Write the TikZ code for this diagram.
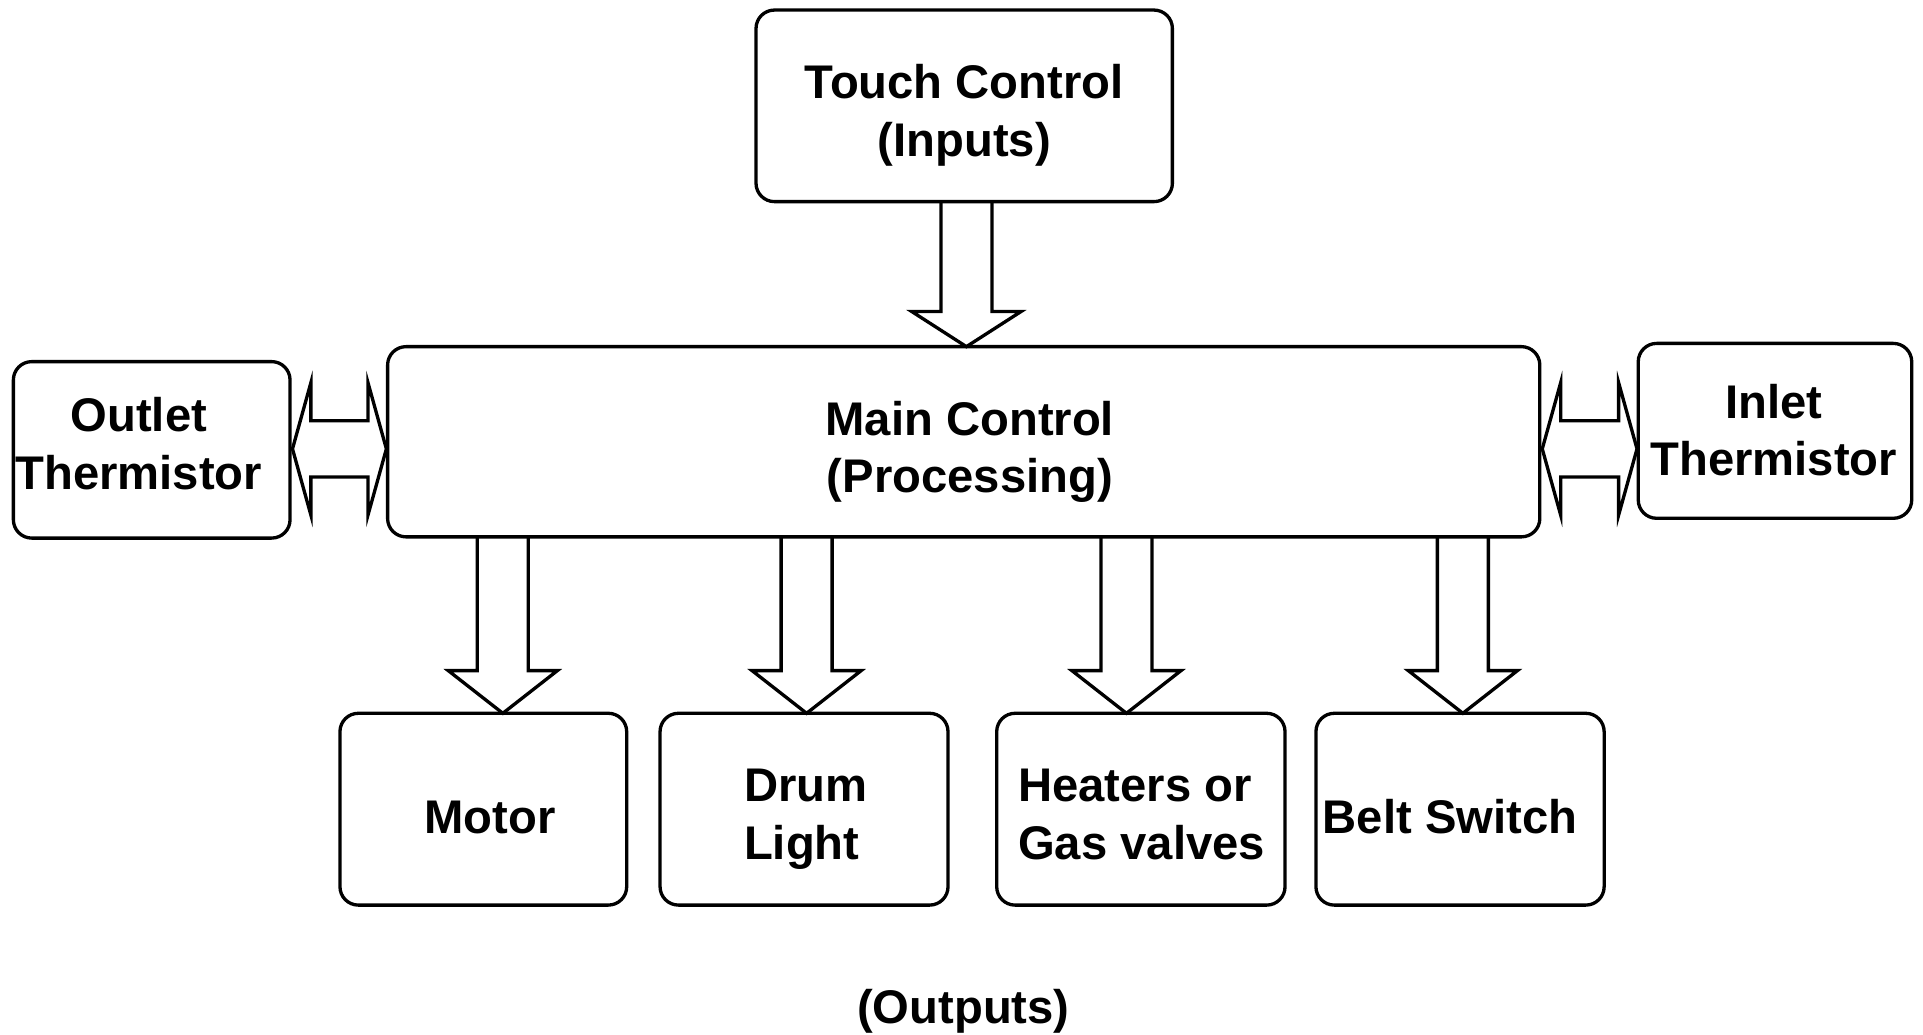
\documentclass[tikz,border=0pt]{standalone}
\usepackage{fontspec}
\setmainfont{Liberation Sans}
\usetikzlibrary{calc}
\tikzset{
  box/.style={draw, line width=2.7pt, rounded corners=15pt, inner sep=0pt, outer sep=0pt},
  lbl/.style={font=\fontsize{38.5}{47}\selectfont\bfseries, inner sep=0pt},
  fat/.style={draw, line width=2.7pt, line join=miter}
}
% text placed inside a box: #1 = twice the horizontal shift, #2 = raise of first baseline, #3 = column alignment
\newcommand\tb[4]{\raisebox{#2}[0pt][0pt]{\makebox[0pt]{\hspace*{#1}\begin{tabular}[t]{@{}#3@{}}#4\end{tabular}}}}
% broad downward arrow from node #2 to node #3 at x = #1, head length #4
\newcommand\fatdown[4]{%
  \path[fat] let \p1=(#2.south), \p2=(#3.north) in
    (#1pt-20.8pt,\y1) -- (#1pt-20.8pt,\y2+#4pt) -- (#1pt-44.5pt,\y2+#4pt) -- (#1pt,\y2)
    -- (#1pt+44.5pt,\y2+#4pt) -- (#1pt+20.8pt,\y2+#4pt) -- (#1pt+20.8pt,\y1);}
% broad double arrow between node #1 (left) and node #2 (right) at height #3
\newcommand\fatboth[3]{%
  \path[fat] let \p1=(#1.east), \p2=(#2.west) in
    (\x1+2pt,#3pt) -- (\x1+17pt,#3pt+54pt) -- (\x1+17pt,#3pt+23pt) -- (\x2-16pt,#3pt+23pt)
    -- (\x2-16pt,#3pt+54pt) -- (\x2-1pt,#3pt) -- (\x2-16pt,#3pt-54pt) -- (\x2-16pt,#3pt-23pt)
    -- (\x1+17pt,#3pt-23pt) -- (\x1+17pt,#3pt-54pt) -- cycle;}
\begin{document}
\begin{tikzpicture}[x=1pt,y=1pt]
\useasboundingbox (0,0) rectangle (1568,-843.9);
\node[box,lbl,minimum width=339.5pt,minimum height=156.2pt] (touch) at (786.2,-86.3)
  {\tb{0pt}{6.1pt}{c}{Touch Control\\(Inputs)}};
\node[box,lbl,minimum width=939.5pt,minimum height=155.1pt] (main) at (785.8,-360.2)
  {\tb{10pt}{5.5pt}{c}{Main Control\\(Processing)}};
\node[box,lbl,minimum width=225.6pt,minimum height=143.9pt] (outlet) at (123.7,-366.8)
  {\tb{-21pt}{14.8pt}{c}{Outlet\\Thermistor}};
\node[box,lbl,minimum width=223pt,minimum height=142.6pt] (inlet) at (1447.3,-351.3)
  {\tb{-2pt}{10.3pt}{c}{Inlet\\Thermistor}};
\node[box,lbl,minimum width=233.8pt,minimum height=156.4pt] (motor) at (394.1,-659.8)
  {\tb{10.8pt}{-19.7pt}{c}{Motor}};
\node[box,lbl,minimum width=234.8pt,minimum height=156.4pt] (drum) at (655.6,-659.8)
  {\tb{2.8pt}{6.1pt}{l}{Drum\\Light}};
\node[box,lbl,minimum width=235.1pt,minimum height=156.4pt] (heaters) at (930.25,-659.8)
  {\tb{1.2pt}{6.1pt}{l}{Heaters or\\Gas valves}};
\node[box,lbl,minimum width=235pt,minimum height=156.4pt] (belt) at (1190.5,-659.8)
  {\tb{-16.4pt}{-20.2pt}{c}{Belt Switch}};
\node[lbl,anchor=base] (outputs) at (785.5,-834.2) {(Outputs)};

\fatdown{788}{touch}{main}{28.6}
\fatdown{410}{main}{motor}{34.8}
\fatdown{657.7}{main}{drum}{34.8}
\fatdown{918.5}{main}{heaters}{34.8}
\fatdown{1192.8}{main}{belt}{34.8}
\fatboth{outlet}{main}{-366}
\fatboth{main}{inlet}{-366}
\end{tikzpicture}
\end{document}
